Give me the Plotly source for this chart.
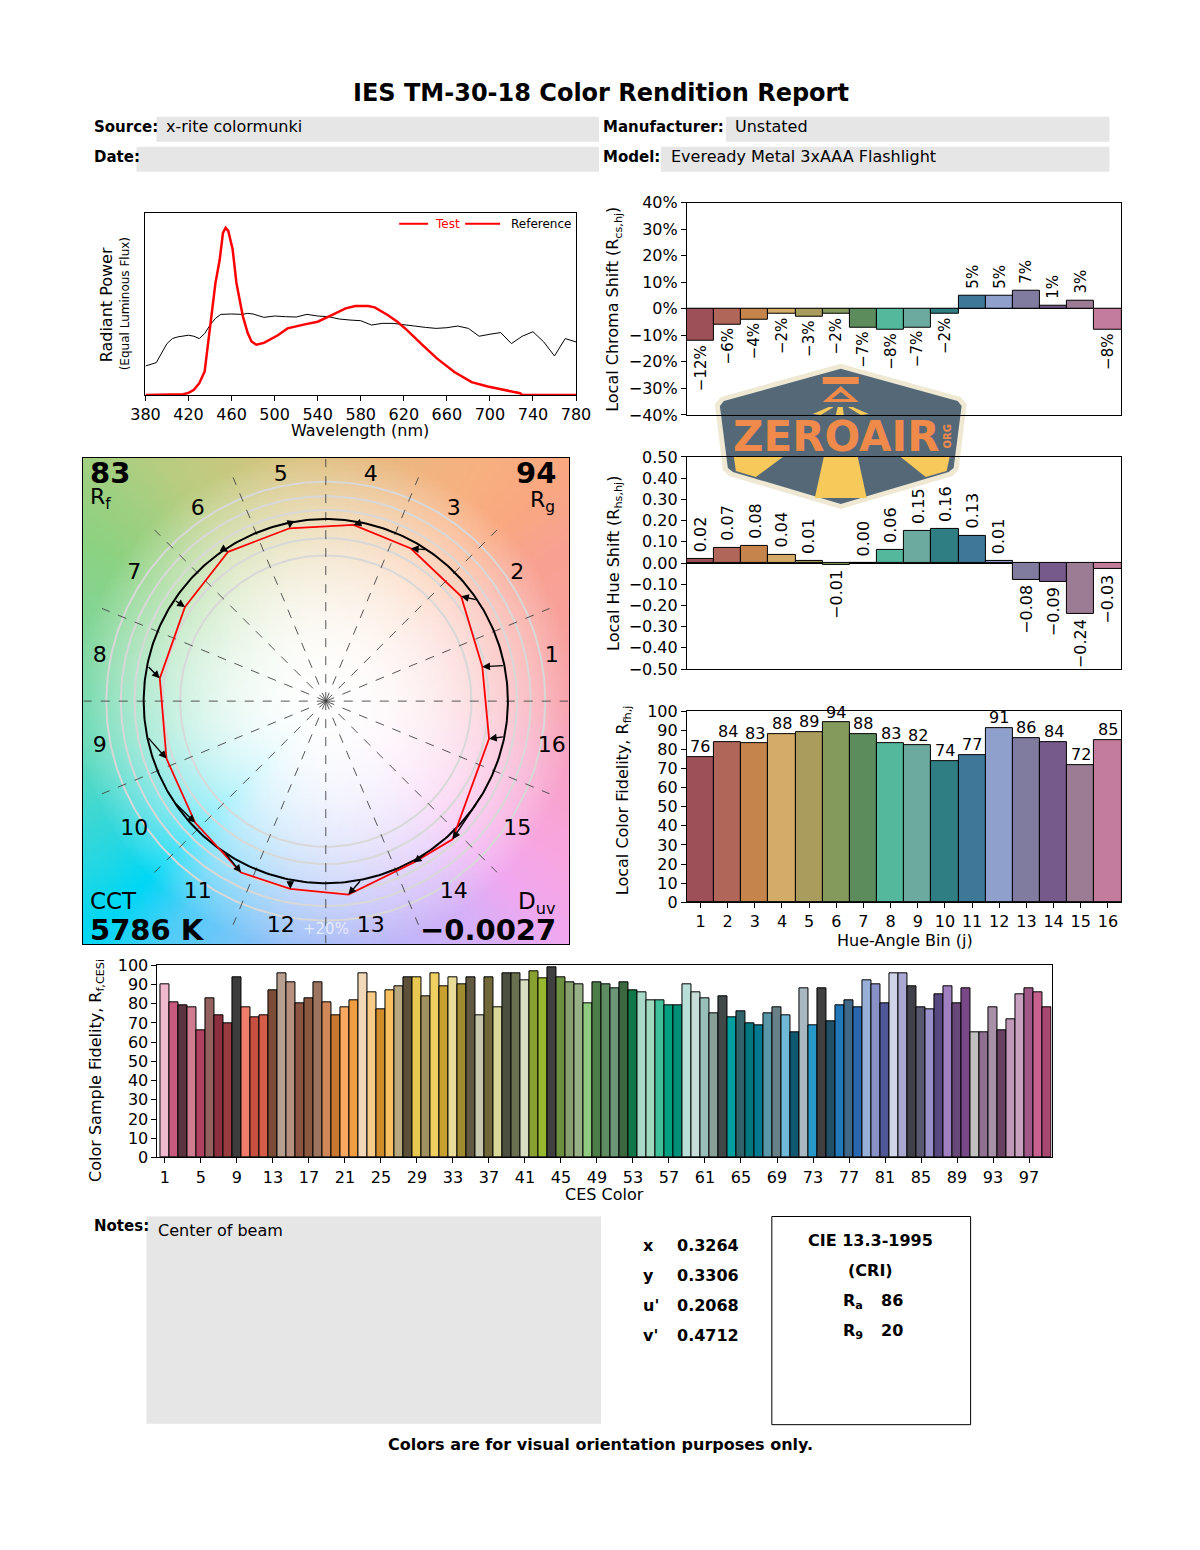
import numpy as np
import plotly.graph_objects as go

W, H = 1200, 1550
FONT = "DejaVu Sans"

# ---------------- data ----------------
wavelength_test = [380, 410, 415, 420, 425, 430, 435, 437, 441, 445, 449, 452, 454.5, 457, 461, 464.5,
                   467.5, 470.5, 475, 478.5, 483, 490, 503, 512, 528, 540, 553, 566, 575, 587, 593,
                   605, 614, 623, 636, 651, 667, 683, 698, 714, 728, 730, 780]
power_test = [0, 0, 0.004, 0.012, 0.03, 0.07, 0.14, 0.247, 0.468, 0.669, 0.81, 0.97, 1.0, 0.98, 0.87,
              0.67, 0.57, 0.47, 0.37, 0.32, 0.30, 0.311, 0.357, 0.398, 0.422, 0.438, 0.478, 0.518,
              0.532, 0.532, 0.524, 0.478, 0.438, 0.388, 0.307, 0.217, 0.137, 0.076, 0.050, 0.030,
              0.010, 0, 0]
wavelength_ref = [380, 390, 400, 405, 410, 420, 425, 430, 435, 440, 445, 450, 460, 470, 475, 480, 490,
                  500, 510, 520, 530, 540, 550, 560, 570, 580, 590, 600, 610, 620, 630, 640, 650, 660,
                  670, 680, 690, 700, 710, 720, 730, 740, 750, 760, 770, 780]
power_ref = [0.173, 0.193, 0.307, 0.337, 0.347, 0.357, 0.351, 0.337, 0.367, 0.418, 0.458, 0.482, 0.484,
             0.482, 0.488, 0.484, 0.464, 0.472, 0.468, 0.466, 0.482, 0.472, 0.468, 0.454, 0.448, 0.444,
             0.418, 0.428, 0.428, 0.422, 0.412, 0.404, 0.398, 0.402, 0.412, 0.398, 0.351, 0.363, 0.373,
             0.307, 0.351, 0.378, 0.317, 0.233, 0.337, 0.317]
spectrum_ticks = [380, 420, 460, 500, 540, 580, 620, 660, 700, 740, 780]

bins = list(range(1, 17))
bin_colors = ["#9e5058", "#b06658", "#c4844c", "#d4ac68", "#aa9c5c", "#849a5c", "#5c8c5c", "#54b89c",
              "#6caaa0", "#2e7e84", "#3e7898", "#90a0cc", "#807ca0", "#765a8c", "#9c7c94", "#c47c9c"]
chroma_shift = [-12, -6, -4, -2, -3, -2, -7, -8, -7, -2, 5, 5, 7, 1, 3, -8]
hue_shift = [0.02, 0.07, 0.08, 0.04, 0.01, -0.01, 0.00, 0.06, 0.15, 0.16, 0.13, 0.01, -0.08, -0.09,
             -0.24, -0.03]
local_fidelity = [76, 84, 83, 88, 89, 94, 88, 83, 82, 74, 77, 91, 86, 84, 72, 85]
chroma_ticks = [-40, -30, -20, -10, 0, 10, 20, 30, 40]

ces_index = list(range(1, 100))
ces_fidelity = [90, 81, 79, 78, 66, 83, 74, 70, 94, 78, 73, 74, 87, 96, 91, 80, 83, 91, 81, 74,
                78, 82, 96, 86, 77, 87, 89, 94, 94, 84, 96, 89, 94, 90, 94, 74, 94, 78, 96, 96,
                92, 97, 93, 99, 94, 91, 90, 80, 91, 90, 88, 91, 87, 86, 82, 82, 79, 79, 90, 86,
                83, 75, 84, 73, 76, 70, 69, 75, 78, 74, 65, 88, 69, 88, 71, 79, 82, 78, 92, 90,
                80, 96, 96, 89, 78, 77, 85, 89, 80, 88, 65, 65, 78, 66, 72, 85, 88, 86, 78]
ces_colors = ["#f0b8cc", "#c85a80", "#5c3440", "#d07c90", "#b04060", "#946060", "#8c3040", "#983c40",
              "#3c3c3c", "#f07c6c", "#c85040", "#d45c48", "#7c4c38", "#b8a090", "#b89080", "#8c5440",
              "#8c5840", "#9c7460", "#d08858", "#c87830", "#f8a860", "#f09c40", "#f0d8b8", "#f8cc88",
              "#d08c28", "#f8c060", "#b8a880", "#5c5038", "#e8c850", "#a09060", "#f0d060", "#c8a030",
              "#e8dc98", "#a08c30", "#605840", "#c8c8b0", "#706838", "#d8d898", "#4c5040", "#687050",
              "#d8dcc0", "#88a030", "#98b830", "#404040", "#6c9040", "#88a070", "#98b088", "#90cc80",
              "#4c7c48", "#5c8c60", "#6c9878", "#3c6840", "#107848", "#a8d8c8", "#a0d8c0", "#40c098",
              "#00a080", "#009078", "#b8e0d8", "#c8dcd8", "#98c0b8", "#88a098", "#404848", "#00a0a0",
              "#306468", "#007880", "#007890", "#5898a8", "#688088", "#70b8d8", "#105870", "#a8b8c0",
              "#2898c8", "#404040", "#205068", "#2078b8", "#406888", "#2868b0", "#98b0d8", "#8890c8",
              "#505898", "#d0d4e8", "#a8a8d0", "#404048", "#585870", "#9890c8", "#584880", "#a080c0",
              "#684878", "#784888", "#c0c0c0", "#907090", "#a890a8", "#684060", "#c098b8", "#c8a0c0",
              "#a05888", "#c86090", "#a84870"]
ces_ticks = list(range(1, 98, 4))

# ---------------- helpers (page pixel -> paper) ----------------
OX, SX, OY, SY = 13.4, 0.976, 9.4, 0.987


def fx(x):
    return (x - OX) / SX


def fy(y):
    return (y - OY) / SY


def px(x):
    return fx(x) / W


def py(y):
    return 1 - fy(y) / H


def dom_x(a, b):
    return [px(a), px(b)]


def dom_y(top, bottom):
    return [py(bottom), py(top)]


def minus(s):
    return s.replace("-", "\u2212")


fig = go.Figure()
annotations = []
shapes = []


def text(x, y, s, size=16, bold=False, color="black", xanchor="left", yanchor="middle", angle=0):
    annotations.append(dict(
        x=px(x), y=py(y), xref="paper", yref="paper", text=("<b>%s</b>" % s) if bold else s,
        showarrow=False, xanchor=xanchor, yanchor=yanchor, textangle=angle,
        font=dict(family=FONT, size=size, color=color)))


def rect_px(x0, y0, x1, y1, fill="#e6e6e6", line=None, layer="below"):
    shapes.append(dict(type="rect", xref="paper", yref="paper", x0=px(x0), x1=px(x1), y0=py(y1),
                       y1=py(y0), fillcolor=fill, line=dict(width=1 if line else 0,
                                                            color=line or "rgba(0,0,0,0)"),
                       layer=layer))


def poly_px(points, fill, layer="below"):
    path = "M " + " L ".join("%f,%f" % (px(x), py(y)) for x, y in points) + " Z"
    shapes.append(dict(type="path", xref="paper", yref="paper", path=path, fillcolor=fill,
                       line=dict(width=0), layer=layer))


# ---------------- header ----------------
text(600, 93, "IES TM-30-18 Color Rendition Report", size=24, bold=True, xanchor="center")
rect_px(155, 117, 598, 142)
rect_px(135, 147, 598, 172)
rect_px(725, 117, 1109, 142)
rect_px(660, 147, 1109, 172)
text(90, 127, "Source:", size=15, bold=True)
text(163, 127, "x-rite colormunki", size=16)
text(90, 157, "Date:", size=15, bold=True)
text(600, 127, "Manufacturer:", size=15, bold=True)
text(732, 127, "Unstated", size=16)
text(600, 157, "Model:", size=15, bold=True)
text(668, 157, "Eveready Metal 3xAAA Flashlight", size=16)

# ---------------- spectrum ----------------
fig.add_trace(go.Scatter(x=wavelength_ref, y=power_ref, mode="lines", line=dict(color="black", width=1),
                         xaxis="x", yaxis="y", showlegend=False, hoverinfo="skip"))
fig.add_trace(go.Scatter(x=wavelength_test, y=power_test, mode="lines", line=dict(color="red", width=2.5),
                         xaxis="x", yaxis="y", showlegend=False, hoverinfo="skip"))
shapes.append(dict(type="line", xref="paper", yref="paper", x0=px(398), x1=px(427), y0=py(224), y1=py(224),
                   line=dict(color="red", width=2)))
shapes.append(dict(type="line", xref="paper", yref="paper", x0=px(464), x1=px(499), y0=py(224), y1=py(224),
                   line=dict(color="red", width=2)))
text(432, 224, "Test", size=12, color="red")
text(508, 224, "Reference", size=12)
text(105, 305, "Radiant Power", size=16, xanchor="center", angle=-90)
text(123, 304, "(Equal Luminous Flux)", size=12, xanchor="center", angle=-90)
text(359, 431, "Wavelength (nm)", size=16, xanchor="center")

# ---------------- colour vector graphic ----------------
UNIT_PX = 182.3
RG = 243.5 / UNIT_PX
N = 180
grid = np.linspace(-RG, RG, N)
gx, gy = np.meshgrid(grid, grid)
rpx = np.sqrt(gx ** 2 + gy ** 2) * UNIT_PX
ang = np.degrees(np.arctan2(gy, gx)) % 360
anchor_ang = [0, 11, 34, 45, 56, 79, 101, 124, 135, 146, 169, 191, 214, 225, 236, 259, 281, 304, 315,
              326, 349, 360]
anchor_rgb = [(248, 160, 170), (248, 160, 160), (248, 162, 145), (250, 168, 128), (248, 176, 128),
              (232, 186, 128), (215, 196, 128), (185, 205, 128), (160, 208, 128), (140, 210, 130),
              (125, 215, 160), (100, 218, 185), (40, 215, 225), (0, 215, 245), (80, 205, 248),
              (150, 192, 248), (184, 184, 248), (215, 176, 248), (240, 168, 240), (248, 166, 225),
              (248, 162, 192), (248, 160, 170)]
anchor_rgb = np.array(anchor_rgb, dtype=float)
sat = np.clip(rpx / 250.0, 0, 1) ** 2
img = np.zeros((N, N, 3))
for c in range(3):
    hue_c = np.interp(ang, anchor_ang, anchor_rgb[:, c])
    img[:, :, c] = 255 * (1 - sat) + hue_c * sat
img = img.astype(np.uint8)
dx = grid[1] - grid[0]
fig.add_trace(go.Image(z=img, x0=grid[0], dx=dx, y0=grid[0], dy=dx, xaxis="x2", yaxis="y2",
                       hoverinfo="skip"))

ring_radii = [0.80, 0.895, 1.05, 1.125, 1.205]
tt = np.linspace(0, 2 * np.pi, 361)
for rr in ring_radii:
    fig.add_trace(go.Scatter(x=rr * np.cos(tt), y=rr * np.sin(tt), mode="lines",
                             line=dict(color="#d8d8d8", width=2), xaxis="x2", yaxis="y2",
                             showlegend=False, hoverinfo="skip"))

dash_x, dash_y = [], []
for k in range(16):
    a = np.radians(k * 22.5)
    dash_x += [0, 1.33 * np.cos(a), None]
    dash_y += [0, 1.33 * np.sin(a), None]
fig.add_trace(go.Scatter(x=dash_x, y=dash_y, mode="lines", line=dict(color="#444444", width=0.9, dash="dash"),
                         xaxis="x2", yaxis="y2", showlegend=False, hoverinfo="skip"))

# reference (unit circle)
fig.add_trace(go.Scatter(x=np.cos(tt), y=np.sin(tt), mode="lines", line=dict(color="black", width=2),
                         xaxis="x2", yaxis="y2", showlegend=False, hoverinfo="skip"))

bin_angle = np.radians([(j - 0.5) * 22.5 for j in bins])
test_r = 1 + np.array(chroma_shift) / 100.0
test_a = bin_angle + np.array(hue_shift)
tx = list(test_r * np.cos(test_a))
ty = list(test_r * np.sin(test_a))
fig.add_trace(go.Scatter(x=tx + tx[:1], y=ty + ty[:1], mode="lines", line=dict(color="red", width=1.8),
                         xaxis="x2", yaxis="y2", showlegend=False, hoverinfo="skip"))
for j in range(16):
    annotations.append(dict(x=tx[j], y=ty[j], ax=np.cos(bin_angle[j]), ay=np.sin(bin_angle[j]),
                            xref="x2", yref="y2", axref="x2", ayref="y2", text="", showarrow=True,
                            arrowhead=2, arrowsize=1.1, arrowwidth=1.4, arrowcolor="black",
                            standoff=0, startstandoff=0))

fig.add_trace(go.Scatter(x=list(1.265 * np.cos(bin_angle)), y=list(1.265 * np.sin(bin_angle)),
                         mode="text", text=[str(j) for j in bins],
                         textfont=dict(family=FONT, size=22, color="black"),
                         xaxis="x2", yaxis="y2", showlegend=False, hoverinfo="skip"))

text(86, 473, "83", size=29, bold=True)
text(86, 499, "R<sub>f</sub>", size=22)
text(557, 473, "94", size=29, bold=True, xanchor="right")
text(556, 502, "R<sub>g</sub>", size=22, xanchor="right")
text(86, 901, "CCT", size=23)
text(86, 930, "5786 K", size=29, bold=True)
text(557, 903, "D<sub>uv</sub>", size=23, xanchor="right")
text(557, 930, "\u22120.0027", size=29, bold=True, xanchor="right")
text(325, 929, "+20%", size=15, color="rgba(255,255,255,0.65)", xanchor="center")

# ---------------- chroma shift ----------------
fig.add_trace(go.Bar(x=bins, y=chroma_shift, width=1, marker=dict(color=bin_colors,
                                                                  line=dict(color="black", width=1)),
                     xaxis="x3", yaxis="y3", showlegend=False, hoverinfo="skip"))
for j, v in zip(bins, chroma_shift):
    annotations.append(dict(x=j, y=v, xref="x3", yref="y3", text=minus("%d%%" % v), showarrow=False,
                            textangle=-90, xanchor="center",
                            yanchor="top" if v < 0 else "bottom", yshift=-2 if v < 0 else 5,
                            font=dict(family=FONT, size=15, color="black")))
text(613, 309, "Local Chroma Shift (R<sub>cs,hj</sub>)", size=16, xanchor="center", angle=-90)

# ---------------- hue shift ----------------
fig.add_trace(go.Bar(x=bins, y=hue_shift, width=1, marker=dict(color=bin_colors,
                                                               line=dict(color="black", width=1)),
                     xaxis="x4", yaxis="y4", showlegend=False, hoverinfo="skip"))
for j, v in zip(bins, hue_shift):
    annotations.append(dict(x=j, y=v, xref="x4", yref="y4", text=minus("%.2f" % v), showarrow=False,
                            textangle=-90, xanchor="center",
                            yanchor="top" if v < 0 else "bottom", yshift=-3 if v < 0 else 5,
                            font=dict(family=FONT, size=16, color="black")))
text(613, 563, "Local Hue Shift (R<sub>hs,hj</sub>)", size=16, xanchor="center", angle=-90)

# ---------------- local fidelity ----------------
fig.add_trace(go.Bar(x=bins, y=local_fidelity, width=1, marker=dict(color=bin_colors,
                                                                    line=dict(color="black", width=1)),
                     xaxis="x5", yaxis="y5", showlegend=False, hoverinfo="skip"))
for j, v in zip(bins, local_fidelity):
    annotations.append(dict(x=j, y=v, xref="x5", yref="y5", text=str(v), showarrow=False,
                            xanchor="center", yanchor="bottom", yshift=-1,
                            font=dict(family=FONT, size=16, color="black")))
text(622, 800, "Local Color Fidelity, R<sub>fh,j</sub>", size=16, xanchor="center", angle=-90)
text(904, 940, "Hue-Angle Bin (j)", size=16, xanchor="center")

# ---------------- CES fidelity ----------------
fig.add_trace(go.Bar(x=ces_index, y=ces_fidelity, width=1, marker=dict(color=ces_colors,
                                                                       line=dict(color="black", width=1)),
                     xaxis="x6", yaxis="y6", showlegend=False, hoverinfo="skip"))
text(95, 1070, "Color Sample Fidelity, R<sub>f,CESi</sub>", size=16, xanchor="center", angle=-90)
text(604, 1194, "CES Color", size=16, xanchor="center")

# ---------------- footer ----------------
text(90, 1225, "Notes:", size=15, bold=True)
rect_px(145, 1216, 600, 1423)
text(155, 1230, "Center of beam", size=16)
for label, val, yy in [("x", "0.3264", 1245), ("y", "0.3306", 1275), ("u'", "0.2068", 1305),
                       ("v'", "0.4712", 1335)]:
    text(640, yy, label, size=16, bold=True)
    text(674, yy, val, size=16, bold=True)
rect_px(771, 1216, 970, 1424, fill="rgba(0,0,0,0)", line="black", layer="above")
text(870, 1240, "CIE 13.3-1995", size=16, bold=True, xanchor="center")
text(870, 1270, "(CRI)", size=16, bold=True, xanchor="center")
text(840, 1301, "R<sub>a</sub>", size=16, bold=True)
text(878, 1300, "86", size=16, bold=True)
text(840, 1331, "R<sub>9</sub>", size=16, bold=True)
text(878, 1330, "20", size=16, bold=True)
text(600, 1444, "Colors are for visual orientation purposes only.", size=16, bold=True, xanchor="center")

# ---------------- ZEROAIR badge ----------------
poly_px([(840, 364), (960, 397), (966, 404), (958, 470), (952, 476), (840, 509), (728, 476), (722, 470),
         (714, 404), (720, 397)], "#efe9d4")
poly_px([(840, 369), (957, 401), (961, 406), (953, 468), (948, 472), (840, 504), (732, 472), (727, 468),
         (719, 406), (723, 401)], "#556878")
poly_px([(733, 457), (782, 457), (755, 477), (735, 471)], "#f6c95a")
poly_px([(823, 457), (857, 457), (866, 498), (814, 498)], "#f6c95a")
poly_px([(900, 457), (949, 457), (946, 471), (925, 477)], "#f6c95a")
poly_px([(812, 414), (828, 407), (833, 407), (820, 415)], "#f6c95a")
poly_px([(837, 407), (842, 407), (843, 415), (835, 415)], "#f6c95a")
poly_px([(847, 407), (852, 407), (868, 414), (860, 415)], "#f6c95a")
poly_px([(822, 377), (858, 377), (858, 384), (822, 384)], "#f08a4b")
poly_px([(840, 386), (858, 402), (822, 402)], "#f08a4b")
poly_px([(840, 392), (849, 399), (831, 399)], "#556878")
text(836, 437, "ZEROAIR", size=42, bold=True, color="#f08a4b", xanchor="center")
text(947, 437, "ORG", size=10, bold=True, color="#f08a4b", xanchor="center", angle=-90)

# ---------------- axes ----------------
frame = dict(showline=True, mirror=True, linecolor="black", linewidth=1, showgrid=False, zeroline=False,
             tickfont=dict(family=FONT, size=16, color="black"), ticks="outside", ticklen=5,
             tickcolor="black")
noticks = dict(showticklabels=False, ticks="")

fig.update_layout(
    width=W, height=H, margin=dict(l=0, r=0, t=0, b=0), paper_bgcolor="white",
    plot_bgcolor="rgba(0,0,0,0)", showlegend=False, bargap=0,
    font=dict(family=FONT, color="black"),
    xaxis=dict(frame, domain=dom_x(144, 575), range=[380, 780], tickvals=spectrum_ticks, anchor="y"),
    yaxis=dict(frame, domain=dom_y(213, 395), range=[0, 1.09], anchor="x", **noticks),
    xaxis2=dict(frame, domain=dom_x(81, 568), range=[-RG, RG], anchor="y2", **noticks),
    yaxis2=dict(frame, domain=dom_y(458, 944), range=[-RG, RG], anchor="x2", autorange=False,
                scaleanchor=False, **noticks),
    xaxis3=dict(frame, domain=dom_x(686, 1121), range=[0.5, 16.5], anchor="y3", **noticks),
    yaxis3=dict(frame, domain=dom_y(203, 415), range=[-40, 40], tickmode="array", tickvals=chroma_ticks,
                ticktext=[minus("%d%%" % t) for t in chroma_ticks],
                anchor="x3", zeroline=True, zerolinecolor="black", zerolinewidth=1),
    xaxis4=dict(frame, domain=dom_x(686, 1121), range=[0.5, 16.5], anchor="y4", **noticks),
    yaxis4=dict(frame, domain=dom_y(457, 669), range=[-0.5, 0.5], dtick=0.1, tick0=0, tickformat=".2f",
                anchor="x4", zeroline=True, zerolinecolor="black", zerolinewidth=1),
    xaxis5=dict(frame, domain=dom_x(686, 1121), range=[0.5, 16.5], tickvals=bins, anchor="y5"),
    yaxis5=dict(frame, domain=dom_y(711, 902), range=[0, 100], dtick=10, anchor="x5"),
    xaxis6=dict(frame, domain=dom_x(156, 1051), range=[0.17, 99.5], tickvals=ces_ticks, anchor="y6"),
    yaxis6=dict(frame, domain=dom_y(965, 1157), range=[0, 100], dtick=10, anchor="x6"),
    annotations=annotations, shapes=shapes,
)

POST = ("var st=document.createElement('style');"
        "st.textContent='html,body{margin:0 !important;padding:0 !important;overflow:hidden !important;}';"
        "document.head.appendChild(st);"
        "var gd=document.getElementById('{plot_id}');"
        "gd.style.position='absolute';gd.style.left='0px';gd.style.top='0px';")
fig.write_html("out.html", config={"displayModeBar": False}, post_script=POST)
